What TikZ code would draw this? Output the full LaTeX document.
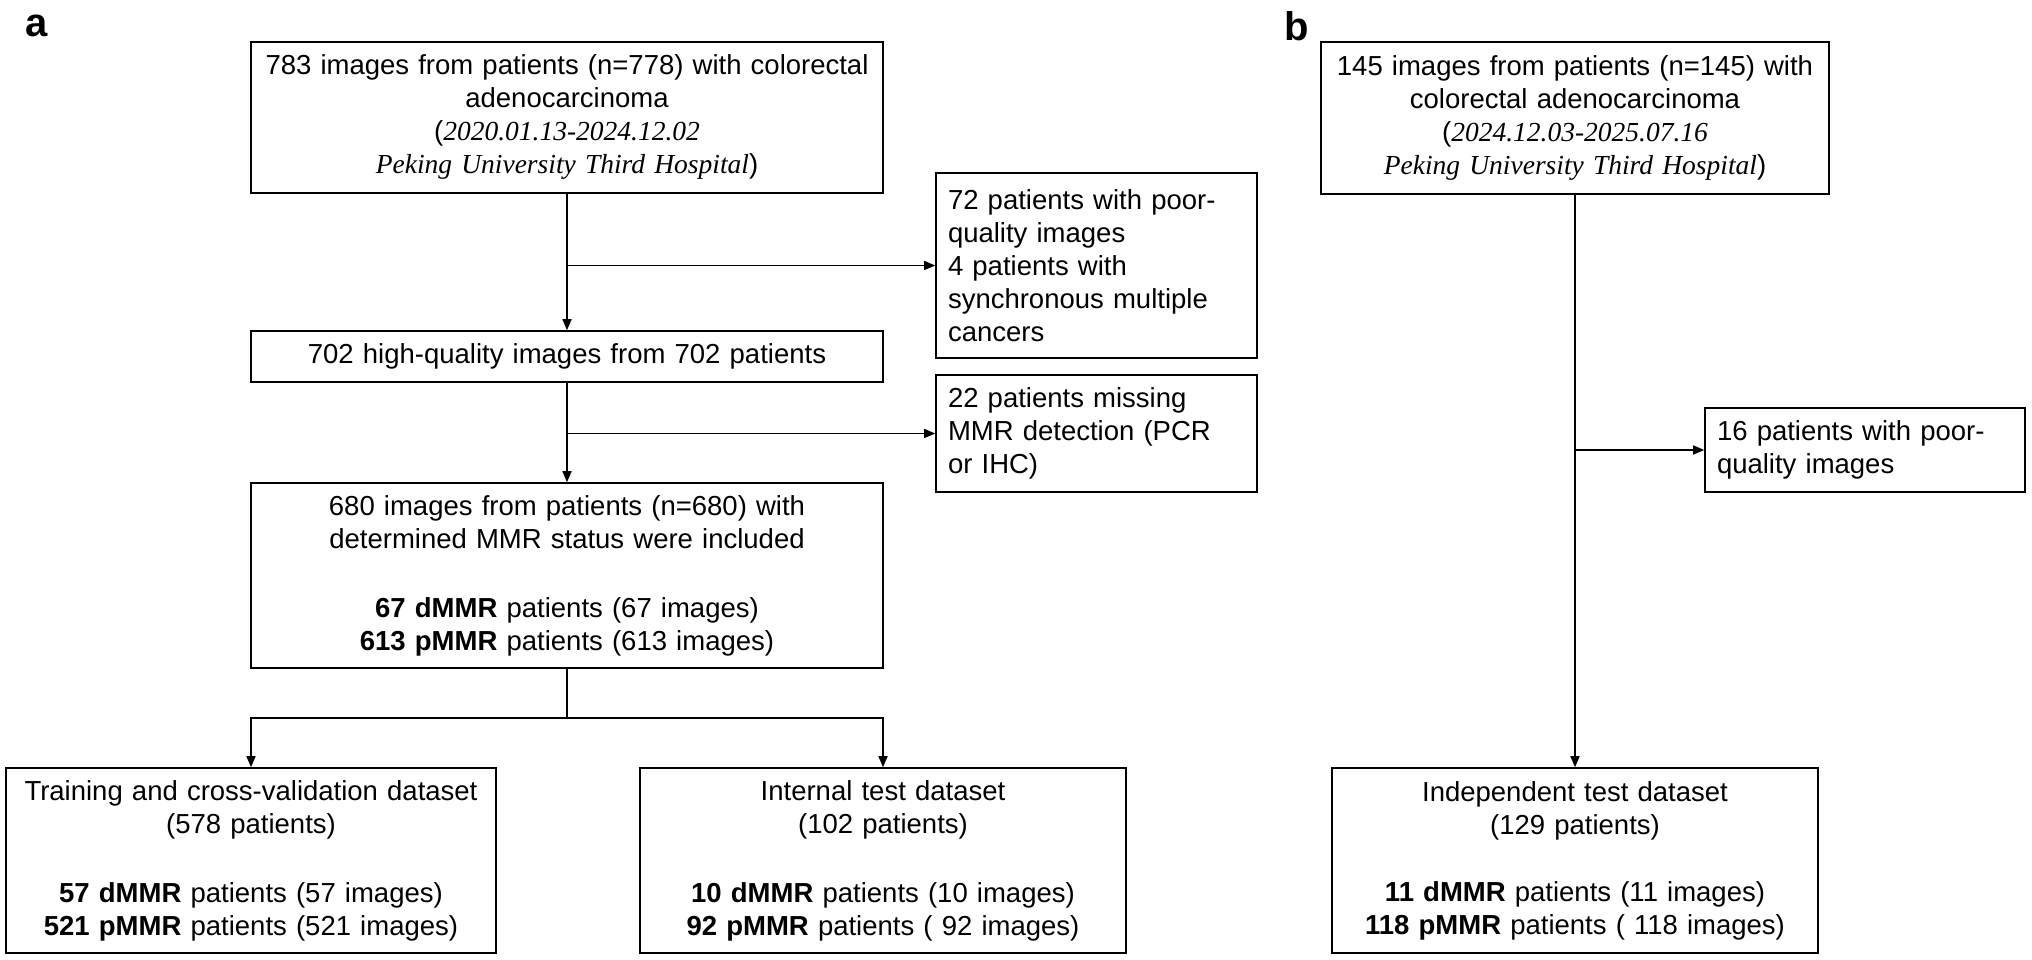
\documentclass[tikz,border=0pt]{standalone}
\usepackage{fontspec}
\setmainfont{Liberation Sans}
\newfontfamily\tnr{Liberation Serif}
\usetikzlibrary{arrows.meta}
\begin{document}
\begin{tikzpicture}[x=1pt,y=-1pt,
  box/.style={draw,line width=1.6pt,inner sep=0pt,align=center,minimum height=#1,font=\fontsize{27.5}{33}\selectfont},
  lbox/.style={draw,line width=1.6pt,inner ysep=0pt,inner xsep=12pt,align=left,minimum height=#1,font=\fontsize{27.5}{33}\selectfont},
  arr/.style={line width=1.6pt,-{Triangle[length=11pt,width=9pt]}},
  ln/.style={line width=1.6pt},
  lab/.style={font=\fontsize{40}{40}\selectfont\bfseries,inner sep=0pt}]
\useasboundingbox (0,0) rectangle (2032,960);
\node[lab] (la) at (37,26) {a};
\node[lab] (lb) at (1297,26) {b};
% panel a
\node[box=151pt,text width=632pt] (A1) at (567,117.5) {783 images from patients (n=778) with colorectal\\ adenocarcinoma\\ ({\tnr\itshape 2020.01.13-2024.12.02}\\ {\tnr\itshape Peking University Third Hospital})};
\node[box=51pt,text width=632pt] (A2) at (567,356.5) {702 high-quality images from 702 patients};
\node[lbox=185pt,text width=297pt] (E1) at (1096.5,265.5) {72 patients with poor-\\quality images\\4 patients with\\synchronous multiple\\cancers};
\node[lbox=117pt,text width=297pt] (E2) at (1096.5,433.5) {22 patients missing\\MMR detection (PCR\\or IHC)};
\node[box=185pt,text width=632pt] (A3) at (567,575.5) {680 images from patients (n=680) with\\ determined MMR status were included\\[36pt] \textbf{67 dMMR} patients (67 images)\\ \textbf{613 pMMR} patients (613 images)};
\node[box=185pt,text width=490pt] (T) at (251,860.5) {Training and cross-validation dataset\\ (578 patients)\\[36pt] \textbf{57 dMMR} patients (57 images)\\ \textbf{521 pMMR} patients (521 images)};
\node[box=185pt,text width=486pt] (I) at (883,860.5) {Internal test dataset\\ (102 patients)\\[36pt] \textbf{10 dMMR} patients (10 images)\\ \textbf{92 pMMR} patients ( 92 images)};
\coordinate (j1) at (567,265.5);
\coordinate (j2) at (567,433.5);
\coordinate (s) at (567,718);
\draw[arr] (A1) -- (A2);
\draw[arr] (j1) -- (E1.west);
\draw[arr] (A2) -- (A3);
\draw[arr] (j2) -- (E2.west);
\draw[ln] (A3.south) -- (s);
\draw[arr] (s) -| (T.north);
\draw[arr] (s) -| (I.north);
% panel b
\node[box=152pt,text width=508pt] (B1) at (1575,118) {145 images from patients (n=145) with\\ colorectal adenocarcinoma\\ ({\tnr\itshape 2024.12.03-2025.07.16}\\ {\tnr\itshape Peking University Third Hospital})};
\node[lbox=84pt,text width=296pt] (BE) at (1865,450) {16 patients with poor-\\quality images};
\node[box=185pt,text width=486pt] (ID) at (1575,860.5) {Independent test dataset\\ (129 patients)\\[34pt] \textbf{11 dMMR} patients (11 images)\\ \textbf{118 pMMR} patients ( 118 images)};
\coordinate (j3) at (1575,450);
\draw[arr] (B1) -- (ID);
\draw[arr] (j3) -- (BE.west);
\end{tikzpicture}
\end{document}
